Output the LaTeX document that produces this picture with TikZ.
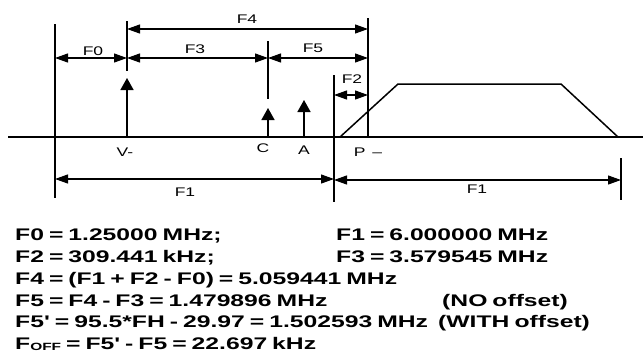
\documentclass[tikz,border=0pt]{standalone}
\usepackage{fontspec}
\setmainfont{Liberation Sans}[FakeStretch=1.4]
\newfontfamily\eqfont{Liberation Sans}[FakeStretch=1.47]
\newcommand\eqtext{\eqfont\bfseries\fontsize{16.8}{20}\selectfont\spaceskip 5pt\relax}
\usetikzlibrary{arrows.meta}

\begin{document}
\begin{tikzpicture}[x=1pt, y=-1pt,
    lbl/.style={font=\fontsize{12.5}{14}\selectfont, inner sep=0pt},
    eqn/.style={font=\eqtext, anchor=base west, inner sep=0pt},
    wall/.style={line width=1.8pt},
    dim/.style={line width=1.2pt, {Triangle[length=13pt,width=9pt]}-{Triangle[length=13pt,width=9pt]}},
    tone/.style={line width=1.6pt, -{Triangle[length=12pt,width=13pt]}}]
    \useasboundingbox (0,0) rectangle (643,354);

    % Axe des frequences
    \coordinate (ax0) at (8,137);
    \coordinate (ax1) at (643,137);
    \draw[line width=1.2pt] (ax0) -- (ax1);

    % Traits verticaux
    \coordinate (ref top) at (55,24);   \coordinate (ref bot) at (55,198);
    \coordinate (vid top) at (127,21);  \coordinate (vid bot) at (127,71);
    \coordinate (chr top) at (268,41);  \coordinate (chr bot) at (268,99);
    \coordinate (off top) at (368,18);  \coordinate (off bot) at (368,137);
    \coordinate (edg top) at (334,75);  \coordinate (edg bot) at (334,202);
    \coordinate (end top) at (621,158); \coordinate (end bot) at (621,200);
    \draw[wall] (ref top) -- (ref bot);
    \draw[wall] (vid top) -- (vid bot);
    \draw[wall] (chr top) -- (chr bot);
    \draw[wall] (off top) -- (off bot);
    \draw[wall] (edg top) -- (edg bot);
    \draw[wall] (end top) -- (end bot);

    % Porteuses
    \coordinate (vid base) at (127,137); \coordinate (vid tip) at (127,78);
    \coordinate (chr base) at (268,137); \coordinate (chr tip) at (268,108);
    \coordinate (aud base) at (304,137); \coordinate (aud tip) at (304,100);
    \draw[tone] (vid base) -- (vid tip);
    \draw[tone] (chr base) -- (chr tip);
    \draw[tone] (aud base) -- (aud tip);

    % Canal
    \coordinate (ch0) at (340,137);
    \coordinate (ch1) at (398,84);
    \coordinate (ch2) at (561,84);
    \coordinate (ch3) at (618,137);
    \draw[line width=1.5pt] (ch0) -- (ch1) -- (ch2) -- (ch3);

    % Cotes
    \draw[dim] (vid top |- 0,29) coordinate (f4a) -- (off top |- 0,29) coordinate (f4b);
    \draw[dim] (ref top |- 0,58) coordinate (f0a) -- (vid top |- 0,58) coordinate (f0b);
    \draw[dim] (f0b) -- (chr top |- 0,58) coordinate (f3b);
    \draw[dim] (f3b) -- (off top |- 0,58) coordinate (f5b);
    \draw[dim] (edg top |- 0,95) coordinate (f2a) -- (off top |- 0,95) coordinate (f2b);
    \draw[dim] (ref top |- 0,179) coordinate (f1a) -- (edg top |- 0,179) coordinate (f1b);
    \draw[dim] (edg top |- 0,180) coordinate (f1c) -- (end top |- 0,180) coordinate (f1d);

    \node[lbl] (lF4) at (247,19) {F4};
    \node[lbl] (lF0) at (93,51) {F0};
    \node[lbl] (lF3) at (195,49) {F3};
    \node[lbl] (lF5) at (313,48) {F5};
    \node[lbl] (lF2) at (352,79) {F2};
    \node[lbl] (lF1) at (185,192) {F1};
    \node[lbl] (lF1b) at (477,189) {F1};
    \node[lbl] (lV) at (125,152) {V-};
    \node[lbl] (lC) at (263,148) {C};
    \node[lbl] (lA) at (304,150) {A};
    \node[lbl] (lP) at (368,152) {P \,\textendash};

    % Valeurs
    \node[eqn] (e0) at (15,240) {F0 = 1.25000 MHz;};
    \node[eqn] (e1) at (336,240) {F1 = 6.000000 MHz};
    \node[eqn] (e2) at (15,262) {F2 = 309.441 kHz;};
    \node[eqn] (e3) at (336,262) {F3 = 3.579545 MHz};
    \node[eqn] (e4) at (15,284) {F4 = (F1 + F2 - F0) = 5.059441 MHz};
    \node[eqn] (e5) at (15,306) {F5 = F4 - F3 = 1.479896 MHz};
    \node[eqn] (n5) at (442,306) {(NO offset)};
    \node[eqn] (e6) at (15,327) {F5' = 95.5*FH - 29.97 = 1.502593 MHz};
    \node[eqn] (n6) at (438,327) {(WITH offset)};
    \node[eqn] (e7) at (15,349) {F\raisebox{-1.5pt}{\fontsize{10.5}{11}\selectfont OFF} = F5' - F5 = 22.697 kHz};
\end{tikzpicture}
\end{document}
